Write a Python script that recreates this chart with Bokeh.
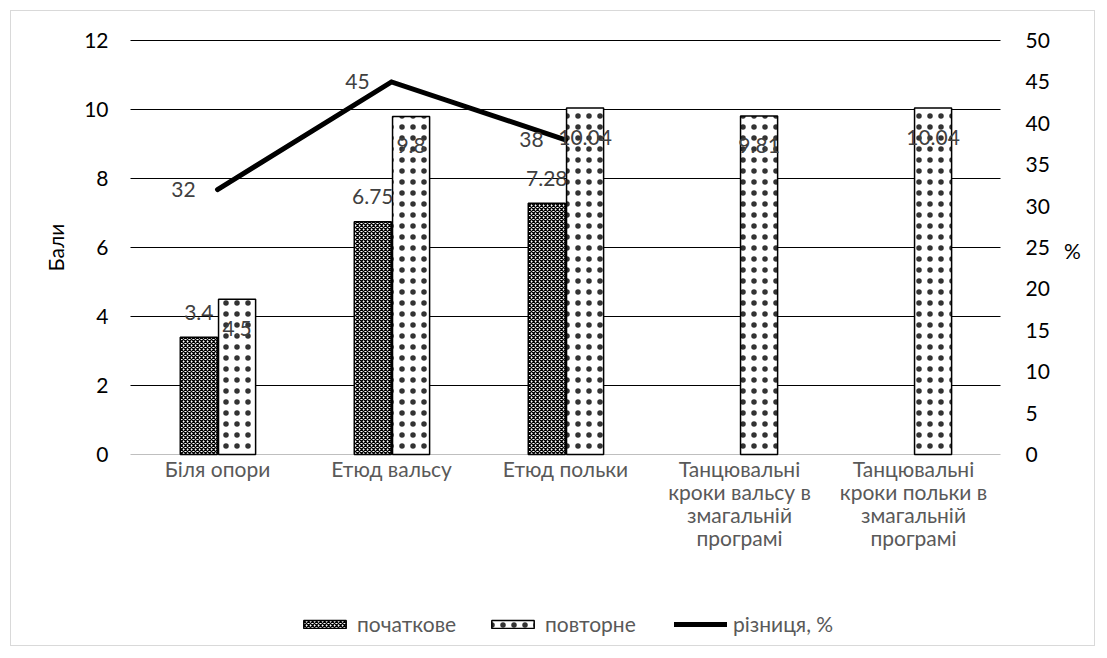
import math
from bokeh.plotting import figure
from bokeh.models import (Range1d, LinearAxis, FixedTicker, ColumnDataSource,
                          LabelSet, Label, Legend, LegendItem)
from bokeh.transform import dodge
from bokeh.core.properties import value
from bokeh.embed import file_html
from bokeh.resources import INLINE

categories = ["Біля опори", "Етюд вальсу", "Етюд польки",
              "Танцювальні\nкроки вальсу в\nзмагальній\nпрограмі",
              "Танцювальні\nкроки польки в\nзмагальній\nпрограмі"]
initial = [3.4, 6.75, 7.28, None, None]
repeat = [4.5, 9.8, 10.04, 9.81, 10.04]
diff_pct = [32, 45, 38, None, None]
left_ticks = [0, 2, 4, 6, 8, 10, 12]
right_ticks = [0, 5, 10, 15, 20, 25, 30, 35, 40, 45, 50]
series_names = ["початкове", "повторне", "різниця, %"]
left_title = "Бали"
right_title = "%"

FONT = "Lato"
FS = "21px"

# layout in pixels: the frame fills the whole canvas, the value band sits inside it
W, H = 1085, 636
PLOT_LEFT, PLOT_W = 119, 870        # where the category band starts / its width
PLOT_TOP, VALUE_H = 29, 414         # where the top tick sits / height of the value band
n = len(categories)
x_unit = PLOT_W / n
ymax_l, ymax_r = max(left_ticks), max(right_ticks)
below_px = H - PLOT_TOP - VALUE_H


def yrange(ymax):
    unit = VALUE_H / ymax
    return Range1d(-below_px / unit, ymax + PLOT_TOP / unit)


xpos = [i + 0.5 for i in range(n)]


def subset(vals):
    xs = [x for x, v in zip(xpos, vals) if v is not None]
    ys = [v for v in vals if v is not None]
    return ColumnDataSource(dict(x=xs, y=ys, t=[str(v) for v in ys]))


src_i = subset(initial)
src_r = subset(repeat)
src_d = subset(diff_pct)

# category labels, one row per text line so that every line is centred
LINE_H = 23
cx, ct, co = [], [], []
for x, c in zip(xpos, categories):
    for k, line in enumerate(c.split("\n")):
        cx.append(x)
        ct.append(line)
        co.append(-14 - LINE_H * k)
src_c = ColumnDataSource(dict(x=cx, y=[0] * len(cx), t=ct, off=co))

p = figure(x_range=Range1d(-PLOT_LEFT / x_unit, n + (W - PLOT_LEFT - PLOT_W) / x_unit),
           y_range=yrange(ymax_l),
           width=W, height=H, output_backend="svg", toolbar_location=None,
           x_axis_location=None,
           min_border_left=0, min_border_right=0, min_border_top=0, min_border_bottom=0)
p.styles = {"border": "1px solid #d9d9d9", "margin": "10px 0 0 10px"}
p.outline_line_color = None
p.background_fill_color = "white"
p.border_fill_color = "white"
p.extra_y_ranges = {"pct": yrange(ymax_r)}
p.xgrid.visible = False
p.ygrid.visible = False


def style_axis(ax, standoff):
    ax.axis_line_color = None
    ax.major_tick_line_color = None
    ax.minor_tick_line_color = None
    ax.major_tick_out = 0
    ax.major_tick_in = 0
    ax.minor_tick_out = 0
    ax.major_label_standoff = standoff
    ax.major_label_text_font = FONT
    ax.major_label_text_font_size = FS
    ax.major_label_text_color = "black"


ya = p.yaxis[0]
ya.ticker = FixedTicker(ticks=left_ticks)
ya.fixed_location = 0
style_axis(ya, 22)

ra = LinearAxis(y_range_name="pct", ticker=FixedTicker(ticks=right_ticks), fixed_location=n)
style_axis(ra, 25)
p.add_layout(ra, "right")

title_kw = dict(text_font=FONT, text_font_size=FS, text_color="black",
                text_align="center", text_baseline="middle")
p.add_layout(Label(x=44, y=ymax_l / 2, x_units="screen", text=left_title,
                   angle=math.pi / 2, **title_kw))
p.add_layout(Label(x=1061, y=ymax_r / 2, x_units="screen", y_range_name="pct", y_offset=-3,
                   text=right_title, **title_kw))

# gridlines at the left-axis ticks across the category band; zero line is light
g = left_ticks[1:]
p.segment(x0=[0] * len(g), x1=[n] * len(g), y0=g, y1=g, line_color="black", line_width=1)
p.segment(x0=[0], x1=[n], y0=left_ticks[:1], y1=left_ticks[:1], line_color="#bfbfbf",
          line_width=1)

OFF = 0.1075
BW = 0.213
r_i = p.vbar(x=dodge("x", -OFF), top="y", width=BW, source=src_i,
             fill_color="white", line_color="black", line_width=1.5,
             hatch_pattern="diagonal_cross", hatch_scale=4, hatch_weight=1.3,
             hatch_color="black")
r_r = p.vbar(x=dodge("x", OFF + 0.005), top="y", width=BW, source=src_r,
             fill_color="white", line_color="black", line_width=1.5,
             hatch_pattern="dot", hatch_scale=11, hatch_weight=0.2, hatch_color="black",
             hatch_alpha=0.8)
r_d = p.line(x="x", y="y", source=src_d, y_range_name="pct", line_width=5,
             line_color="black", line_cap="round", line_join="miter")

lab_kw = dict(text_align="center", text_baseline="middle", text_font=value(FONT),
              text_font_size=FS, text_color="#404040")
p.add_layout(LabelSet(x=dodge("x", -OFF), y="y", text="t", source=src_i,
                      y_offset=25, **lab_kw))
p.add_layout(LabelSet(x=dodge("x", OFF + 0.005), y="y", text="t", source=src_r,
                      y_offset=-29, **lab_kw))
p.add_layout(LabelSet(x="x", y="y", text="t", source=src_d, y_range_name="pct",
                      x_offset=-34, **lab_kw))

# category labels under the zero line
p.add_layout(LabelSet(x="x", y="y", text="t", source=src_c, y_offset="off",
                      text_align="center", text_baseline="middle", text_font=value(FONT),
                      text_font_size=FS, text_color="#595959"))

legend = Legend(items=[LegendItem(label=series_names[0], renderers=[r_i]),
                       LegendItem(label=series_names[1], renderers=[r_r]),
                       LegendItem(label=series_names[2], renderers=[r_d])],
                location=(PLOT_LEFT + 168, 11), orientation="horizontal", padding=0, margin=0,
                spacing=0, glyph_width=53, glyph_height=10, label_standoff=6, label_width=129,
                label_height=20,
                label_text_font=FONT, label_text_font_size=FS, label_text_color="#595959",
                background_fill_alpha=0, border_line_color=None)
p.add_layout(legend, "center")

open("out.html", "w").write(file_html(p, INLINE))
